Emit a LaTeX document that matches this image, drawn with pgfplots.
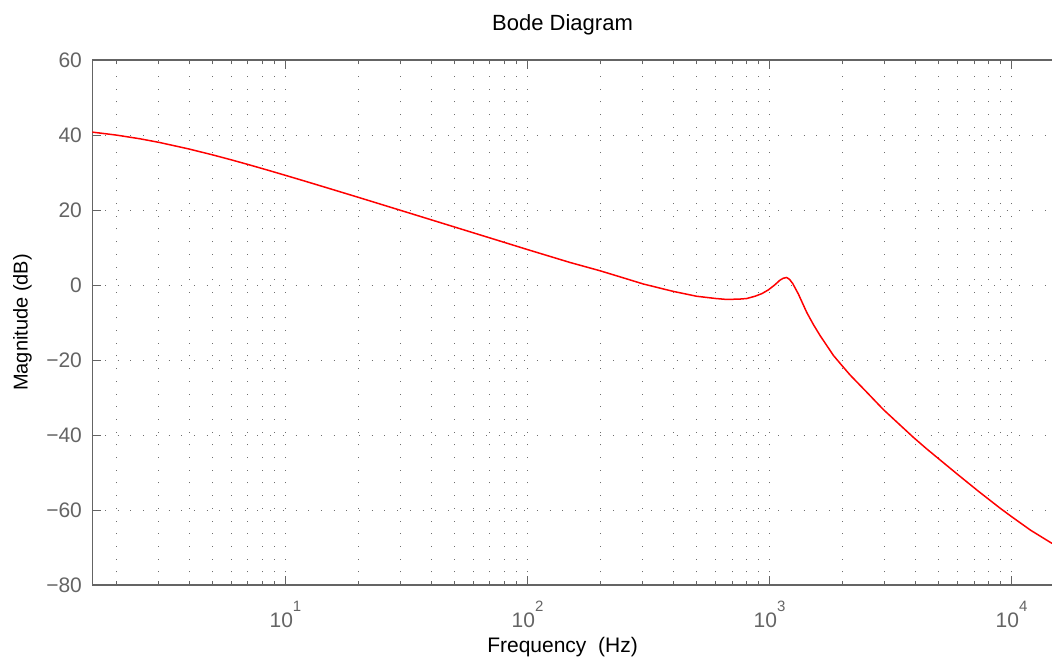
\documentclass[border=0pt]{standalone}
\usepackage{pgfplots}
\pgfplotsset{compat=1.18}
\usepackage{fontspec}
\setmainfont{Liberation Sans}
\definecolor{axgray}{RGB}{100,100,100}
\definecolor{gridgray}{RGB}{110,110,110}
\newcommand{\pw}[1]{10\raisebox{8pt}{\fontsize{7.5}{8}\selectfont #1}}
\begin{document}
\begin{tikzpicture}
\useasboundingbox (-46.15pt,-37.5pt) rectangle (479.85pt,292.5pt);
\begin{axis}[
  at={(0pt,0pt)}, anchor=south west,
  scale only axis, width=479.85pt, height=262.5pt,
  xmode=log, xmin=1.5915, xmax=14700, ymin=-80, ymax=60,
  axis x line*=box, axis y line*=left,
  axis line style={axgray, line width=0.6pt},
  ytick={-80,-60,-40,-20,0,20,40,60},
  yticklabels={−80,−60,−40,−20,0,20,40,60},
  xtick={10,100,1000,10000},
  xticklabels={\pw{1},\pw{2},\pw{3},\pw{4}},
  minor xtick={2,3,4,5,6,7,8,9,20,30,40,50,60,70,80,90,200,300,400,500,600,700,800,900,2000,3000,4000,5000,6000,7000,8000,9000},
  xmajorgrids, xminorgrids, ymajorgrids,
  major grid style={dash pattern=on 0.5pt off 5.85pt, gridgray, line width=0.5pt},
  minor grid style={dash pattern=on 0.5pt off 5.85pt, gridgray, line width=0.5pt},
  major tick length=4.5pt, minor tick length=2.2pt,
  tick style={axgray, line width=0.5pt},
  ticklabel style={font=\fontsize{10.5}{12}\selectfont, text=axgray},
  yticklabel style={anchor=east, inner sep=0pt, xshift=-5pt},
  xticklabel style={anchor=base, inner sep=0pt, yshift=-21pt},
  title={Bode Diagram},
  every axis title/.style={at={(axis description cs:0.49,1)}, anchor=base, yshift=15pt, font=\fontsize{11}{13}\selectfont},
  xlabel={Frequency~~(Hz)},
  every axis x label/.style={at={(axis description cs:0.49,0)}, anchor=base, yshift=-33.5pt, font=\fontsize{10.5}{12}\selectfont},
  ylabel={Magnitude (dB)},
  every axis y label/.style={at={(axis description cs:0,0.5)}, xshift=-32.3pt, rotate=90, anchor=base, font=\fontsize{10}{12}\selectfont},
]
\addplot[red, line width=0.75pt] coordinates {
(1.5915,40.77) (2.0,39.98) (2.5,39.0) (3.0,38.04) (4.0,36.26) (5.0,34.70)
(6.0,33.34) (7.0,32.14) (8.5,30.58) (10,29.24) (12,27.72) (15,25.83)
(20,23.38) (30,19.88) (40,17.39) (60,13.88) (80,11.39) (100,9.45)
(150,6.0) (199.4,3.8) (250,1.87) (301,0.27) (400,-1.7) (500,-3.0) (600,-3.6) (665,-3.85)
(755,-3.75) (805,-3.6) (871,-3.0) (930,-2.3) (989,-1.3) (1050,0.0) (1105,1.3) (1140,1.8)
(1177,2.0) (1210,1.5) (1247,0.4) (1316,-2.4) (1425,-7.3) (1520,-10.6) (1619,-13.5)
(1838,-18.8) (2000,-21.6) (2153,-24.0) (2524,-28.6) (2953,-33.2) (3928,-40.6) (4462,-43.7)
(5935,-50.3) (7300,-55.0) (8966,-59.5) (10020,-61.8) (12000,-65.4) (14700,-68.9)
};
\end{axis}
\end{tikzpicture}
\end{document}
